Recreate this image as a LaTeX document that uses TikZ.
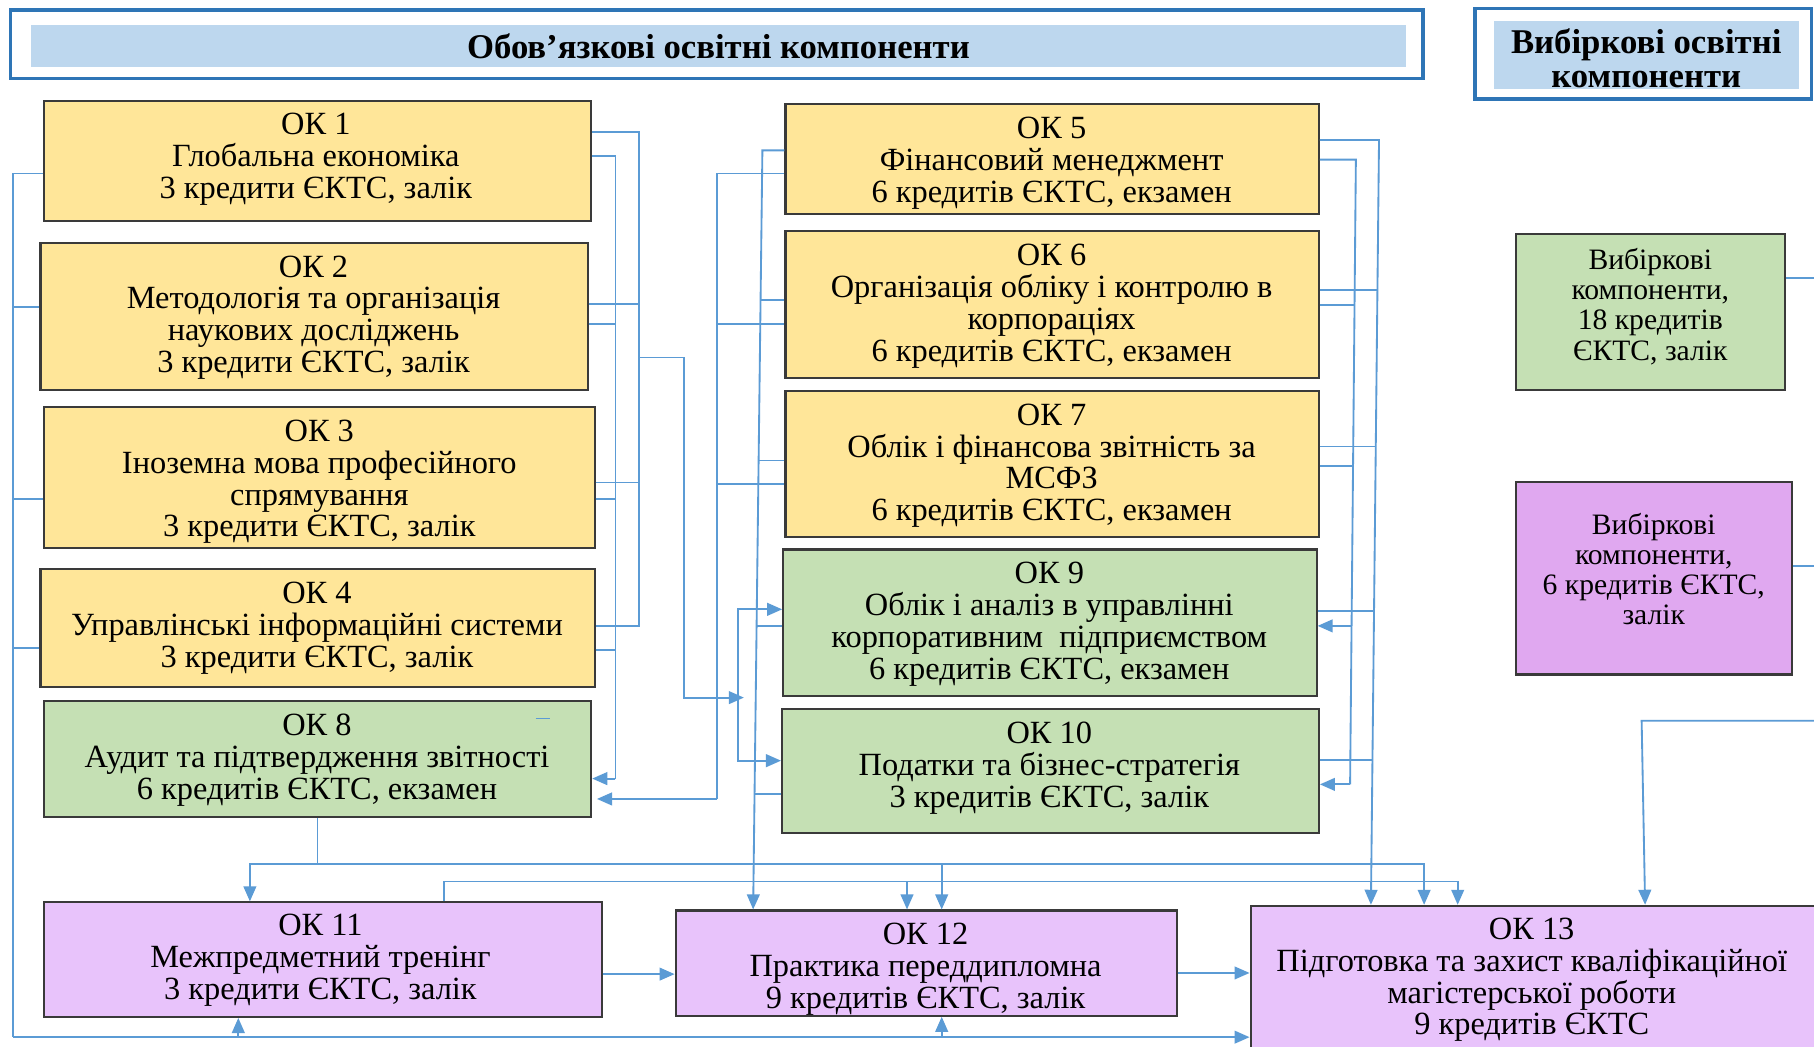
\documentclass[tikz,border=0pt]{standalone}
\usepackage{fontspec}
\setmainfont{Liberation Serif}
\usetikzlibrary{arrows.meta,fit}
\definecolor{yel}{HTML}{FFE699}
\definecolor{grn}{HTML}{C5E0B4}
\definecolor{pur}{HTML}{E8C3FB}
\definecolor{vpur}{HTML}{E0A8F0}
\definecolor{tfill}{HTML}{BDD7EE}
\definecolor{tblue}{HTML}{2E75B6}
\definecolor{lnk}{HTML}{5B9BD5}
\definecolor{boxline}{HTML}{3A3A3A}
\begin{document}
\begin{tikzpicture}[x=0.5pt,y=-0.5pt,
  box/.style={draw=boxline, line width=0.9pt, inner sep=0pt},
  ybox/.style={box, fill=yel},
  gbox/.style={box, fill=grn},
  pbox/.style={box, fill=pur},
  vbox/.style={box, fill=vpur},
  tout/.style={draw=tblue, line width=1.5pt, inner sep=0pt},
  tin/.style={fill=tfill, inner sep=0pt},
  ttl/.style={align=center, inner sep=0pt, font=\bfseries\fontsize{15}{14.5}\selectfont},
  txt/.style={align=center, inner sep=0pt, font=\fontsize{14}{13.75}\selectfont},
  vtxt/.style={align=center, inner sep=0pt, font=\fontsize{12.8}{13}\selectfont},
  conn/.style={draw=lnk, line width=0.8pt},
  arr/.style={conn, -{Triangle[length=6.5pt,width=5.5pt]}},
]
\useasboundingbox (0,0) rectangle (1568,905);
\fill[white] (0,0) rectangle (1568,905);
\clip (0,0) rectangle (1568,905);

% titles
\node[fit={(9,8.6) (1230,67.7)}, tout] (t1out) {};
\node[fit={(27,21.6) (1215,57.6)}, tin] (t1in) {};
\node[ttl] (t1) at (621,40) {Обов’язкові освітні компоненти};
\node[fit={(1275,7.5) (1566,85.5)}, tout] (t2out) {};
\node[fit={(1291,18) (1555,77)}, tin] (t2in) {};
\node[ttl] (t2) at (1423,50.5) {Вибіркові освітні\\компоненти};

% boxes
\node[fit={(38,87) (511,191)}, ybox] (ok1) {};
\node[fit={(35,210) (508,337)}, ybox] (ok2) {};
\node[fit={(38,352) (514,474)}, ybox] (ok3) {};
\node[fit={(35,492) (514,594)}, ybox] (ok4) {};
\node[fit={(38,606) (511,706)}, gbox] (ok8) {};
\node[fit={(679,90) (1140,185)}, ybox] (ok5) {};
\node[fit={(679,200) (1140,327)}, ybox] (ok6) {};
\node[fit={(679,338) (1140,464)}, ybox] (ok7) {};
\node[fit={(677,475) (1138,602)}, gbox] (ok9) {};
\node[fit={(676,613) (1140,720)}, gbox] (ok10) {};
\node[fit={(1310,202) (1543,337)}, gbox] (vib1) {};
\node[fit={(1310,417) (1549,583)}, vbox] (vib2) {};
\node[fit={(38,780) (520,879)}, pbox] (ok11) {};
\node[fit={(584,787) (1017,878)}, pbox] (ok12) {};
\node[fit={(1081,783) (1620,960)}, pbox] (ok13) {};

% texts
\node[txt] (ok1t) at (273,137.5) {ОК 1\\Глобальна економіка\\3 кредити ЄКТС, залік};
\node[txt] (ok2t) at (271,274.5) {ОК 2\\Методологія та організація\\наукових досліджень\\3 кредити ЄКТС, залік};
\node[txt] (ok3t) at (276,416.5) {ОК 3\\Іноземна мова професійного\\спрямування\\3 кредити ЄКТС, залік};
\node[txt] (ok4t) at (274,543) {ОК 4\\Управлінські інформаційні системи\\3 кредити ЄКТС, залік};
\node[txt] (ok8t) at (274,657) {ОК 8\\Аудит та підтвердження звітності\\6 кредитів ЄКТС, екзамен};
\node[txt] (ok5t) at (909,141) {ОК 5\\Фінансовий менеджмент\\6 кредитів ЄКТС, екзамен};
\node[txt] (ok6t) at (909,264.5) {ОК 6\\Організація обліку і контролю в\\корпораціях\\6 кредитів ЄКТС, екзамен};
\node[txt] (ok7t) at (909,402.5) {ОК 7\\Облік і фінансова звітність за\\МСФЗ\\6 кредитів ЄКТС, екзамен};
\node[txt] (ok9t) at (907,539.5) {ОК 9\\Облік і аналіз в управлінні\\корпоративним~ підприємством\\6 кредитів ЄКТС, екзамен};
\node[txt] (ok10t) at (907,664) {ОК 10\\Податки та бізнес-стратегія\\3 кредитів ЄКТС, залік};
\node[vtxt] (vib1t) at (1426.5,265) {Вибіркові\\компоненти,\\18 кредитів\\ЄКТС, залік};
\node[vtxt] (vib2t) at (1429.5,492) {Вибіркові\\компоненти,\\6 кредитів ЄКТС,\\залік};
\node[txt] (ok11t) at (277,830) {ОК 11\\Межпредметний тренінг\\3 кредити ЄКТС, залік};
\node[txt] (ok12t) at (800,837.5) {ОК 12\\Практика переддипломна\\9 кредитів ЄКТС, залік};
\node[txt] (ok13t) at (1324,847) {ОК 13\\Підготовка та захист кваліфікаційної\\магістерської роботи\\9 кредитів ЄКТС};

% small dash in OK 8
\draw[conn] (463,621) -- (475,621);

% left bus
\coordinate (L1) at (11,150);
\coordinate (L2) at (11,896.5);
\draw[conn] (ok1.west |- L1) -- (L1) -- (L2);
\draw[arr] (L2) -- (ok13.west |- L2);
\draw[conn] (ok2.west |- 0,265) -- (11,265);
\draw[conn] (ok3.west |- 0,431) -- (11,431);
\draw[conn] (ok4.west |- 0,560) -- (11,560);
\draw[arr] (206,896.5) -- (206,0 |- ok11.south);
\draw[arr] (814,896.5) -- (814,0 |- ok12.south);

% bus A (x=552)
\draw[conn] (ok1.east |- 0,114) -- (552,114) -- (552,541) -- (ok4.east |- 0,541);
\draw[conn] (ok2.east |- 0,263) -- (552,263);
\draw[conn] (ok3.east |- 0,417) -- (552,417);
\draw[arr] (552,309) -- (591,309) -- (591,603) -- (643,603);

% bus B (x=532)
\draw[conn] (ok1.east |- 0,135) -- (532,135) -- (532,673);
\draw[arr] (532,673) -- (ok8.east |- 0,673);
\draw[conn] (ok2.east |- 0,280) -- (532,280);
\draw[conn] (ok3.east |- 0,431) -- (532,431);
\draw[conn] (ok4.east |- 0,561.5) -- (532,561.5);

% bus C (x=620)
\draw[conn] (ok5.west |- 0,150) -- (620,150) -- (620,690.6);
\draw[arr] (620,690.6) -- (516,690.6);
\draw[conn] (ok6.west |- 0,280) -- (620,280);
\draw[conn] (ok7.west |- 0,418) -- (620,418);

% bus D (x=638)
\draw[arr] (638,603) |- (ok9.west |- 0,526.7);
\draw[arr] (638,603) |- (ok10.west |- 0,657.5);

% bus E (slanted, to OK 12)
\draw[arr] (ok5.west |- 0,130) -- (659,130) -- (651,0 |- ok12.north);
\draw[conn] (ok6.west |- 0,259) -- (657.4,259);
\draw[conn] (ok7.west |- 0,398) -- (655.7,398);
\draw[conn] (ok9.west |- 0,541) -- (654,541);
\draw[conn] (ok10.west |- 0,686) -- (652.2,686);

% bus F (right, to OK 13)
\draw[arr] (ok5.east |- 0,121) -- (1192,121) -- (1185,0 |- ok13.north);
\draw[conn] (ok6.east |- 0,251) -- (1190.6,251);
\draw[conn] (ok7.east |- 0,386) -- (1189.2,386);
\draw[conn] (ok9.east |- 0,528) -- (1187.7,528);
\draw[conn] (ok10.east |- 0,657) -- (1186.3,657);

% bus G (right, to OK 9 and OK 10)
\draw[conn] (ok5.east |- 0,138) -- (1172,138) -- (1167,678);
\draw[arr] (1167,678) -- (ok10.east |- 0,678);
\draw[arr] (1168.3,541) -- (ok9.east |- 0,541);
\draw[conn] (ok6.east |- 0,264) -- (1170.8,264);
\draw[conn] (ok7.east |- 0,402.5) -- (1169.6,402.5);

% bottom distribution
\draw[conn] (ok8.south) -- (ok8.south |- 0,747);
\draw[arr] (ok8.south |- 0,747) -- (216,747) -- (216,0 |- ok11.north);
\draw[arr] (ok8.south |- 0,747) -- (1231,747) -- (1231,0 |- ok13.north);
\draw[arr] (814,747) -- (814,0 |- ok12.north);
\draw[arr] (384,0 |- ok11.north) -- (384,762) -- (1260,762) -- (1260,0 |- ok13.north);
\draw[arr] (784,762) -- (784,0 |- ok12.north);
\draw[arr] (ok11.east |- 0,842) -- (ok12.west |- 0,842);
\draw[arr] (ok12.east |- 0,841) -- (ok13.west |- 0,841);

% right side (elective)
\draw[conn] (vib1.east |- 0,240) -- (1570,240);
\draw[conn] (vib2.east |- 0,489) -- (1570,489);
\draw[arr] (1570,623) -- (1419,623) -- (1422,0 |- ok13.north);
\end{tikzpicture}
\end{document}
